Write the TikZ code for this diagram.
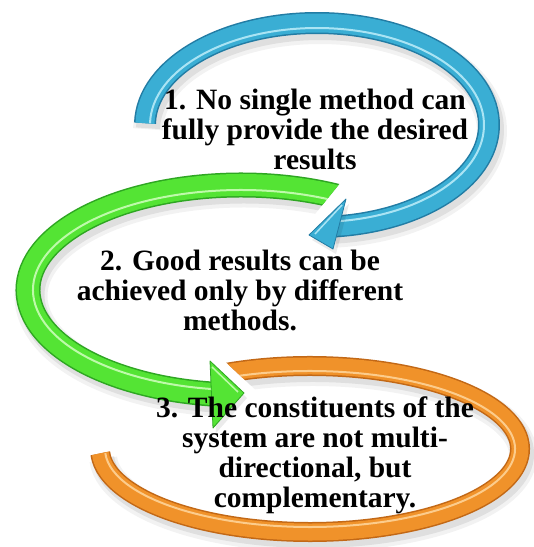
\documentclass[tikz,border=0pt]{standalone}
\usepackage{fontspec}
\setmainfont{Liberation Serif}
\usetikzlibrary{calc}
\definecolor{bluemain}{RGB}{58,174,212}
\definecolor{bluedark}{RGB}{34,124,164}
\definecolor{bluelight}{RGB}{170,228,244}
\definecolor{greenmain}{RGB}{84,228,52}
\definecolor{greendark}{RGB}{46,166,34}
\definecolor{greenlight}{RGB}{190,250,170}
\definecolor{orangemain}{RGB}{240,146,42}
\definecolor{orangedark}{RGB}{194,104,22}
\definecolor{orangelight}{RGB}{252,204,140}
\newcommand\myarc[7]{%
  \draw[#7] (#1,#2) ++(#5:#3 and #4) arc[start angle=#5,end angle=#6,x radius=#3,y radius=#4];}
\newcommand\myribbon[9]{% cx cy rx ry a b W (unused) colour prefix
  \myarc{#1}{#2}{#3}{#4}{#5}{#6}{line width=#7+8, draw=black, opacity=0.05, shift={(3,6)}}
  \myarc{#1}{#2}{#3}{#4}{#5}{#6}{line width=#7+2, draw=black, opacity=0.08, shift={(3,5)}}
  \myarc{#1}{#2}{#3}{#4}{#5}{#6}{line width=#7, draw=#9dark}
  \myarc{#1}{#2}{#3}{#4}{#5}{#6}{line width=#7-3, draw=#9main}
  \myarc{#1}{#2}{#3-5}{#4-5}{#5}{#6}{line width=2, draw=#9light}
}
\begin{document}
\begin{tikzpicture}[x=1pt,y=-1pt,
  txt/.style={font=\fontsize{29.5}{30}\selectfont\bfseries, inner sep=0pt, anchor=base},
  head/.style={line join=round, line width=0.8pt}]
\useasboundingbox[fill=white] (0,0) rectangle (534,547);

% orange ring (no head), slanted cut at its upper-left end
\begin{scope}[even odd rule]
  \clip (0,0) rectangle (534,547) (215,352) -- (262,396) -- (140,430) -- (140,320) -- cycle;
  \myribbon{310}{449}{210}{83}{244}{537}{20}{}{orange}
\end{scope}

% green arrow, slanted cut at its tail
\begin{scope}[even odd rule]
  \clip (0,0) rectangle (534,547) (353,167) -- (307,224) -- (400,260) -- (420,150) -- cycle;
  \myribbon{241}{290}{213}{105}{301}{95}{25}{}{green}
\end{scope}
\coordinate (ga) at (210,361);
\coordinate (gt) at (244,393);
\coordinate (gb) at (213,428);
\fill[black, opacity=0.08] ([shift={(3,5)}]ga) -- ([shift={(3,5)}]gt) -- ([shift={(3,5)}]gb) -- cycle;
\filldraw[head, fill=greenmain, draw=greendark] (ga) -- (gt) -- (gb) -- cycle;
\draw[greenlight, line width=1.5pt] (212,367) -- (238,392);

% blue arrow
\myribbon{317}{125}{172}{102}{181}{445}{22}{}{blue}
\coordinate (ba) at (346,199);
\coordinate (bt) at (309,235);
\coordinate (bb) at (333,249);
\fill[black, opacity=0.08] ([shift={(3,5)}]ba) -- ([shift={(3,5)}]bt) -- ([shift={(3,5)}]bb) -- cycle;
\filldraw[head, fill=bluemain, draw=bluedark] (ba) -- (bt) -- (bb) -- cycle;
\draw[bluelight, line width=1.5pt] (342,205) -- (315,234);

% texts
\node[txt] (t1) at (315,109) {\begin{tabular}[t]{@{}c@{}}1. No single method can\\ fully provide the desired\\ results\end{tabular}};
\node[txt] (t2) at (240,270) {\begin{tabular}[t]{@{}c@{}}2. Good results can be\\ achieved only by different\\ methods.\end{tabular}};
\node[txt] (t3) at (315,417) {\begin{tabular}[t]{@{}c@{}}3. The constituents of the\\ system are not multi-\\ directional, but\\ complementary.\end{tabular}};
\end{tikzpicture}
\end{document}
